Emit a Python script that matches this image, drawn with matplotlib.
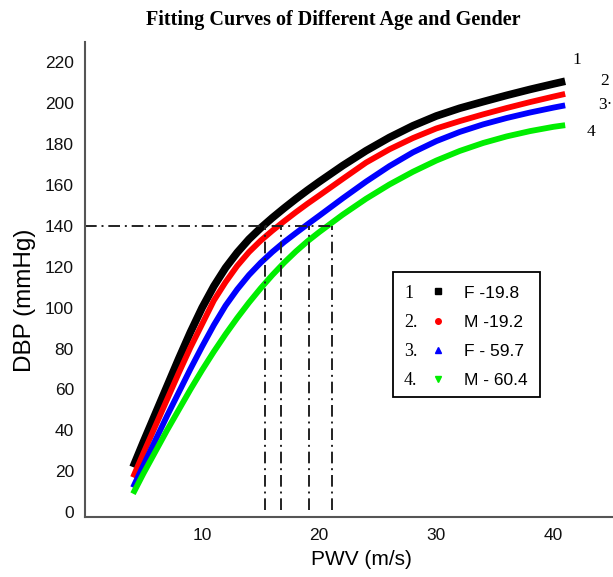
import matplotlib
matplotlib.use("Agg")
import matplotlib.pyplot as plt
from matplotlib.lines import Line2D
from matplotlib.patches import Rectangle

plt.rcParams["font.family"] = ["Liberation Sans", "DejaVu Sans"]

# PWV (m/s) sample points
pwv = [4.1, 5, 6, 7, 8, 9, 10, 11, 12, 13, 14, 15, 16, 17, 18, 19, 20,
       22, 24, 26, 28, 30, 32, 34, 36, 38, 40, 41]

# DBP (mmHg) for each fitted curve
dbp_f19 = [22, 34.5, 48, 61.5, 75, 88, 100, 110.5, 119.5, 127, 133.5, 139, 144, 148.7,
           153.2, 157.5, 161.6, 169.5, 176.8, 183.3, 189, 193.8, 197.6, 200.8, 203.9,
           206.8, 209.5, 210.8]
dbp_m19 = [17, 29, 42, 55, 68, 80.5, 92, 103.5, 112.5, 120.5, 127.2, 132.8, 137.7, 142.3,
           146.7, 150.9, 154.9, 163, 171, 177.5, 183, 187.7, 191.3, 194.6, 197.7,
           200.6, 203.3, 204.6]
dbp_f59 = [12, 23, 35, 47, 58.5, 70, 81, 91.5, 101, 109, 116, 122, 127.3, 132.1,
           136.5, 140.8, 145, 153.5, 161.7, 169.3, 176, 181.5, 186, 189.7, 192.8,
           195.5, 197.9, 199]
dbp_m60 = [9, 19, 29.5, 40, 50, 60, 69.5, 78.5, 87, 95, 102.5, 109.5, 116, 122,
           127.5, 132.5, 137, 145.5, 153.3, 160.3, 166.5, 172, 176.7, 180.6, 183.8,
           186.4, 188.5, 189.3]

curve_nums = ["1", "2.", "3.", "4."]
end_nums = ["1", "2", "3·", "4"]
labels = ["F -19.8", "M -19.2", "F - 59.7", "M - 60.4"]
colors = ["black", "red", "blue", "#00ee00"]
markers = ["s", "o", "^", "v"]

# reading of DBP = 140 on each curve
dbp_ref = 140
pwv_at_ref = [15.4, 16.7, 19.1, 21.1]

W, H = 613, 577
fig = plt.figure(figsize=(W / 100, H / 100), dpi=100)
ax = fig.add_axes([85 / W, 60 / H, 527 / W, 475 / H])

series = [dbp_f19, dbp_m19, dbp_f59, dbp_m60]
widths = [5.5, 4.2, 4.2, 4.2]
for ys, c, w in zip(series, colors, widths):
    ax.plot(pwv, ys, color=c, lw=w, solid_capstyle="butt", solid_joinstyle="round")

# dash-dot guide lines
dd = (0, (6, 2.5, 1, 2.5))
ax.plot([0, max(pwv_at_ref)], [dbp_ref, dbp_ref], color="#222222", lw=1.4, linestyle=dd)
for xv in pwv_at_ref:
    ax.plot([xv, xv], [1, dbp_ref], color="#222222", lw=1.4, linestyle=dd)

# curve numbers at the right end
num_pos = [(42.0, 221), (44.4, 211), (44.4, 199), (43.2, 186)]
for n, (xp, yp) in zip(end_nums, num_pos):
    ax.text(xp, yp, n, fontsize=12.5, family="Liberation Serif",
            ha="center", va="center", color="black")

ax.set_xlim(0, 45)
ax.set_ylim(-2.4, 230)
ax.set_xticks([10, 20, 30, 40])
ax.set_yticks(range(0, 221, 20))
ax.tick_params(length=0, labelsize=12.5, colors="#111111")
ax.tick_params(axis="y", pad=8)
ax.tick_params(axis="x", pad=8)
for s in ["top", "right"]:
    ax.spines[s].set_visible(False)
for s in ["left", "bottom"]:
    ax.spines[s].set_color("#555555")
    ax.spines[s].set_linewidth(1.5)

ax.set_xlabel("PWV (m/s)", fontsize=15)
ax.set_ylabel("DBP (mmHg)", fontsize=17.5)
ax.xaxis.set_label_coords((361 - 85) / 527, (517 - 550) / 475)
ax.yaxis.set_label_coords((36 - 85) / 527, (517 - 300) / 475)
fig.text(333 / W, 1 - 20 / H, "Fitting Curves of Different Age and Gender",
         ha="center", va="center", fontsize=14.5, fontweight="bold",
         family="Liberation Serif")

# legend: markers + labels, frame and number column added around it
marks = [Line2D([], [], linestyle="none", marker=m, color=c, markersize=4)
         for m, c in zip(markers, colors)]
leg = ax.legend(marks, labels, loc="upper left",
                bbox_to_anchor=(419 / W, 1 - 275 / H), bbox_transform=fig.transFigure,
                borderaxespad=0, fontsize=12.5, frameon=False,
                handlelength=1.0, handletextpad=1.0, labelspacing=0.8, borderpad=0.6)
fig.canvas.draw()
inv = fig.transFigure.inverted()
for n, t in zip(curve_nums, leg.get_texts()):
    bb = t.get_window_extent()
    yc = inv.transform((0, (bb.y0 + bb.y1) / 2))[1]
    fig.text(404 / W, yc, n, fontsize=13, family="Liberation Serif",
             ha="left", va="center")
fig.patches.append(Rectangle((393 / W, 1 - 397 / H), 147 / W, 125 / H,
                             transform=fig.transFigure, fill=False,
                             edgecolor="black", lw=1.3))

fig.savefig("out.png", dpi=100)
